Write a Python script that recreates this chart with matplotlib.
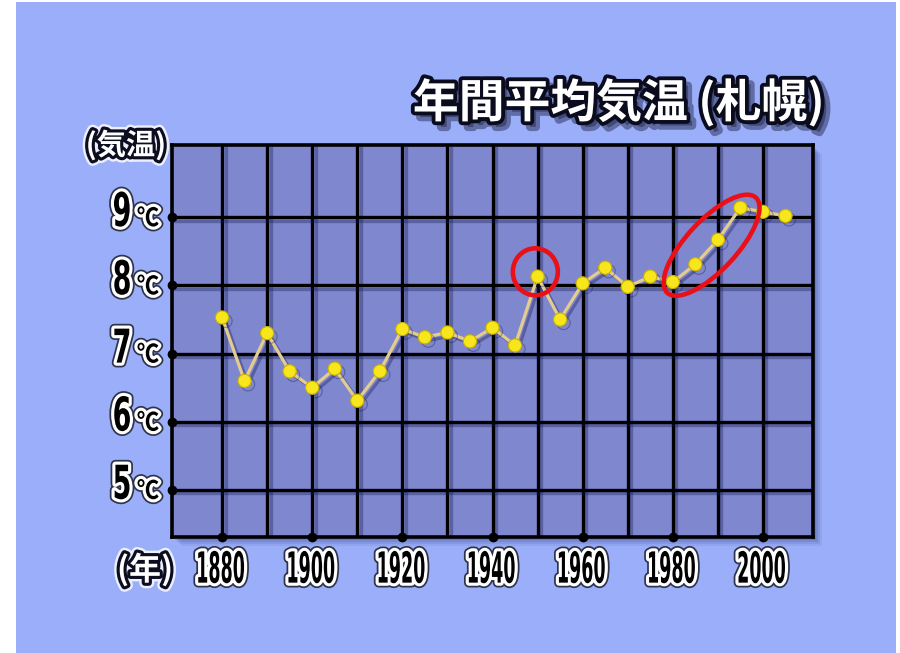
import numpy as np
import matplotlib
matplotlib.use('Agg')
import matplotlib.pyplot as plt
from matplotlib import patheffects as pe
from matplotlib.colors import to_rgba
from matplotlib.patches import Rectangle, Ellipse
from matplotlib.transforms import Affine2D, IdentityTransform

# 札幌の年間平均気温 (5年ごと)
years = [1880, 1885, 1890, 1895, 1900, 1905, 1910, 1915, 1920, 1925, 1930, 1935, 1940,
         1945, 1950, 1955, 1960, 1965, 1970, 1975, 1980, 1985, 1990, 1995, 2000, 2005]
temps = [7.53, 6.60, 7.30, 6.74, 6.50, 6.78, 6.31, 6.74, 7.36, 7.24, 7.31, 7.18, 7.38,
         7.12, 8.13, 7.50, 8.03, 8.26, 7.98, 8.13, 8.05, 8.31, 8.67, 9.14, 9.08, 9.02]
temp_ticks = [5, 6, 7, 8, 9]
year_labels = [1880, 1900, 1920, 1940, 1960, 1980, 2000]

title = '年間平均気温 (札幌)'
ylab = '(気温)'
xlab = '(年)'
unit = '℃'

# red marks: (year, temp, width px, height px, angle)
marks = [(1949.5, 8.20, 45, 47, 0), (1988.6, 8.59, 130, 50, 47)]

PANEL = '#9BAEF9'
FACE = '#7F87CF'
JP = ['Noto Sans CJK JP', 'DejaVu Sans']


class Tall(pe.AbstractPathEffect):
    """draw a text path stretched upward (sy) with optional stroke / own fill"""
    def __init__(self, sy=1.0, offset=(0, 0), fill=None, **kwargs):
        super().__init__(offset)
        self.sy = sy
        self.fill = fill
        self._gc = kwargs

    def draw_path(self, renderer, gc, tpath, affine, rgbFace=None):
        bb = tpath.get_extents(affine)
        st = Affine2D().translate(0, -bb.y0).scale(1, self.sy).translate(0, bb.y0)
        gc0 = renderer.new_gc()
        gc0.copy_properties(gc)
        gc0 = self._update_gc(gc0, self._gc)
        face = to_rgba(self.fill) if self.fill is not None else rgbFace
        renderer.draw_path(gc0, tpath, affine + st + self._offset_transform(renderer), face)
        gc0.restore()


def num_effects(sy):
    return [Tall(sy, linewidth=7, foreground='#30344a', joinstyle='round'),
            Tall(sy, linewidth=4.5, foreground='white', joinstyle='round'),
            Tall(sy)]


fig = plt.figure(figsize=(9, 6.53), dpi=100, facecolor='white')
fig.patches.append(Rectangle((16 / 900, 0), 880 / 900, 651 / 653, transform=fig.transFigure,
                             facecolor=PANEL, edgecolor='none', zorder=-2))

pos = [172 / 900, 116 / 653, 641 / 900, 392 / 653]
# soft shadow under the plot area
for d, a in [(9, 0.07), (7, 0.09), (5, 0.12), (3, 0.15)]:
    fig.patches.append(Rectangle((pos[0] + d / 900, pos[1] - d / 653), pos[2], pos[3],
                                 transform=fig.transFigure, facecolor='#1b2160',
                                 edgecolor='none', alpha=a, zorder=-1))

ax = fig.add_axes(pos)
ax.set_zorder(1)
ax.set_facecolor(FACE)
ax.set_xlim(1868.9, 2011.1)
ax.set_ylim(4.31, 10.06)
ax.set_xticks(np.arange(1880, 2001, 10))
ax.set_yticks(temp_ticks)
ax.tick_params(length=0, labelbottom=False, labelleft=False)
ax.grid(True, color='black', linewidth=2.4, zorder=1)
ax.set_axisbelow(True)
for sp in ax.spines.values():
    sp.set_linewidth(2.6)
    sp.set_color('black')
grid_fx = [pe.SimpleLineShadow(offset=(2.5, -2.5), shadow_color='#141a50', alpha=0.35), pe.Normal()]
for gl in ax.get_xgridlines() + ax.get_ygridlines():
    gl.set_path_effects(grid_fx)

# dots on the axes at labelled ticks
ax.plot(year_labels, [0] * len(year_labels), 'o', color='black', ms=6,
        transform=ax.get_xaxis_transform(), clip_on=False, zorder=5)
ax.plot([0] * len(temp_ticks), temp_ticks, 'o', color='black', ms=6,
        transform=ax.get_yaxis_transform(), clip_on=False, zorder=5)

shadow = [pe.SimpleLineShadow(offset=(2.5, -2.5), shadow_color='#10144a', alpha=0.35), pe.Normal()]
ax.plot(years, temps, color='#E3CC8E', lw=2.3, zorder=3, path_effects=shadow)
ax.plot(years, temps, 'o', ms=9.5, mfc='#F7E61C', mec='#C9B000', mew=0.8, zorder=4,
        path_effects=shadow)

for x, y, w, h, ang in marks:
    c = ax.transData.transform((x, y))
    e = Ellipse(c, w, h, angle=ang, fill=False, edgecolor='#EA1018', linewidth=3.3,
                transform=IdentityTransform(), zorder=6)
    ax.add_artist(e)
    e.set_clip_on(False)

# y labels: big number + small unit
for t in temp_ticks:
    ax.annotate(str(t), xy=(0, t), xycoords=('axes fraction', 'data'),
                xytext=(-50 * 0.72, -9 * 0.72), textcoords='offset points',
                ha='center', va='baseline', fontsize=19.5, fontweight='bold',
                family='DejaVu Sans', color='black', path_effects=num_effects(1.72))
    ax.annotate(unit, xy=(0, t), xycoords=('axes fraction', 'data'),
                xytext=(-24 * 0.72, -9 * 0.72), textcoords='offset points',
                ha='center', va='baseline', fontsize=16, fontweight='bold',
                family=JP, color='black', path_effects=num_effects(1.15))

for yr in year_labels:
    ax.annotate(str(yr), xy=(yr, 0), xycoords=('data', 'axes fraction'),
                xytext=(-1, -46 * 0.72), textcoords='offset points',
                ha='center', va='baseline', fontsize=12.6, fontweight='bold',
                family='DejaVu Sans', color='black', path_effects=num_effects(2.45))

lab_fx = [Tall(1, linewidth=8, foreground='white', alpha=0.8, joinstyle='round'),
          Tall(1, linewidth=4.5, foreground='#0d0d20', joinstyle='round'),
          pe.Normal()]
fig.text(126 / 900, 1 - 145 / 653, ylab, ha='center', va='center', fontsize=21,
         fontweight='bold', family=JP, color='white', path_effects=lab_fx)
fig.text(145 / 900, 1 - 570 / 653, xlab, ha='center', va='center', fontsize=23,
         fontweight='bold', family=JP, color='white', path_effects=lab_fx)

title_fx = [Tall(1, offset=(4, -4), fill='#1a1d40', linewidth=6, foreground='#1a1d40',
                 alpha=0.45, joinstyle='round'),
            Tall(1, linewidth=5.5, foreground='#0b0b1e', joinstyle='round'),
            pe.Normal()]
fig.text(825 / 900, 1 - 103 / 653, title, ha='right', va='center', fontsize=33,
         fontweight='bold', family=JP, color='white', path_effects=title_fx)

fig.savefig('out.png', dpi=100, facecolor='white')
